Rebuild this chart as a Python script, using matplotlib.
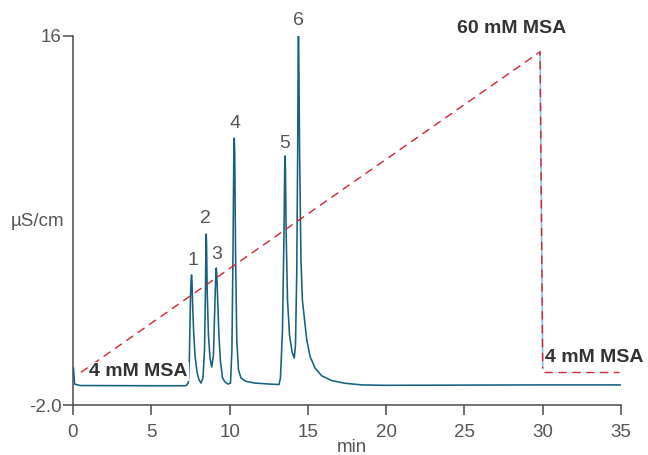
import matplotlib
matplotlib.use("Agg")
import matplotlib.pyplot as plt
import matplotlib.transforms as mtransforms

plt.rcParams['font.family'] = ['Liberation Sans', 'DejaVu Sans']

# Conductivity trace (min, µS/cm)
trace_time = [0.03, 0.10, 0.45, 4.92, 7.22, 7.36, 7.43, 7.50, 7.54, 7.57, 7.60, 7.64, 7.70, 7.79,
              7.92, 8.05, 8.18, 8.30, 8.40, 8.46, 8.49, 8.51, 8.53, 8.57, 8.65, 8.75, 8.86, 8.97,
              9.07, 9.12, 9.15, 9.18, 9.24, 9.32, 9.42, 9.55, 9.71, 9.90, 10.06, 10.15, 10.22,
              10.27, 10.30, 10.33, 10.38, 10.46, 10.57, 10.73, 11.05, 11.62, 12.58, 13.16,
              13.25, 13.38, 13.48, 13.52, 13.54, 13.57, 13.61, 13.70, 13.83, 13.99, 14.13,
              14.21, 14.29, 14.35, 14.38, 14.40, 14.42, 14.47, 14.56, 14.65, 14.93, 15.14,
              15.46, 15.89, 16.53, 17.37, 18.44, 19.93, 29.83, 35.0]
trace_value = [-0.20, -0.98, -1.05, -1.06, -1.06, -0.93, 0.20, 3.12, 4.05, 4.34, 4.05, 2.90, 1.66, 0.44,
               -0.39, -0.78, -0.93, -0.68, 0.68, 3.61, 5.80, 6.34, 5.80, 3.61, 1.41, 0.29, -0.15, 0.44,
               3.12, 4.40, 4.68, 4.40, 3.12, 1.41, 0.10, -0.68, -0.88, -0.98, -0.93, 0.68, 5.56,
               10.30, 11.02, 10.30, 5.56, 1.17, -0.29, -0.68, -0.85, -0.93, -0.98, -1.00,
               -0.68, 1.66, 6.54, 9.50, 10.15, 9.50, 6.54, 3.12, 1.41, 0.59, 0.29,
               0.93, 4.44, 10.44, 15.20, 16.0, 15.20, 10.44, 5.07, 3.12, 1.17, 0.37,
               -0.20, -0.58, -0.81, -0.94, -1.02, -1.04, -1.02, -1.02]

# Eluent gradient drawn on the same axes
ramp_time = [0.50, 29.83, 30.00]
ramp_value = [-0.41, 15.23, -0.21]
hold_time = [30.08, 34.90]
hold_value = [-0.38, -0.38]

# Peak numbers and their label positions
peak_labels = ['1', '2', '3', '4', '5', '6']
peak_label_time = [7.68, 8.49, 9.18, 10.35, 13.54, 14.37]
peak_label_value = [5.07, 7.10, 5.32, 11.71, 10.77, 16.78]

x_ticks = [0, 5, 10, 15, 20, 25, 30, 35]
y_ticks = [-2.0, 16]
y_tick_labels = ['-2.0', '16']

fig = plt.figure(figsize=(6.48, 4.55), dpi=100)
ax = fig.add_axes([73 / 648, 1 - 405 / 455, 548 / 648, 369 / 455])

trace_color = '#15617f'
red = '#d6242f'
axis_color = '#4a4a4a'
text_color = '#555555'

ax.plot(trace_time, trace_value, color=trace_color, lw=1.15, zorder=3)

# vertical return of the gradient: pale solid under red dashes
ax.plot(ramp_time[1:], ramp_value[1:], color='#8fc3e3', lw=1.3, zorder=2)
ax.plot(ramp_time, ramp_value, color=red, lw=1.0, dashes=(6, 4), zorder=4)
ax.plot(hold_time, hold_value, color=red, lw=1.0, dashes=(6, 4), zorder=4)

for lab, t, v in zip(peak_labels, peak_label_time, peak_label_value):
    ax.text(t, v, lab, ha='center', va='center', fontsize=14, color=text_color,
            clip_on=False, zorder=5)

bold = dict(fontsize=14, fontweight='bold', color='#333333', clip_on=False, zorder=6)
ax.text(1.05, -0.37, '4 mM MSA', ha='left', va='center',
        bbox=dict(facecolor='white', edgecolor='none', pad=0.5), **bold)
ax.text(28.0, 16.38, '60 mM MSA', ha='center', va='center', **bold)
ax.text(30.15, 0.32, '4 mM MSA', ha='left', va='center', **bold)

ax.set_xlim(0, 35)
ax.set_ylim(-2.0, 16)
ax.set_xticks(x_ticks)
ax.set_yticks(y_ticks)
ax.set_yticklabels(y_tick_labels)

for side in ('top', 'right'):
    ax.spines[side].set_visible(False)
for side in ('left', 'bottom'):
    ax.spines[side].set_color(axis_color)
    ax.spines[side].set_linewidth(1.1)

ax.tick_params(axis='both', direction='out', length=7, width=1.1, color=axis_color,
               labelcolor=text_color, labelsize=13.5)
ax.tick_params(axis='x', pad=6.5)
ax.tick_params(axis='y', pad=1)

trans = mtransforms.blended_transform_factory(ax.transAxes, ax.transData)
ax.text(-0.015, 6.93, 'µS/cm', transform=trans, ha='right', va='center',
        fontsize=13.5, color=text_color)
fig.text(352 / 648, 1 - 448 / 455, 'min', ha='center', va='center',
         fontsize=13.5, color=text_color)

fig.savefig('out.png', dpi=100, facecolor='white')
